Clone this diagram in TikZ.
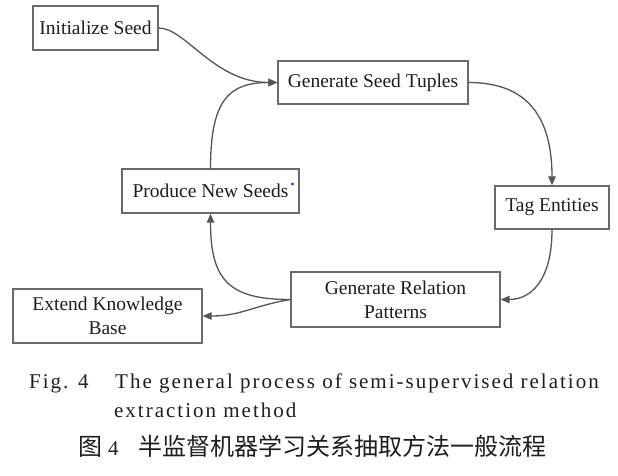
\documentclass[tikz,border=0pt]{standalone}
\usepackage{fontspec}
\setmainfont{Liberation Serif}
\newfontfamily\capfont{Liberation Serif}[LetterSpace=9.5]
\newfontfamily\cjk{Noto Sans CJK SC}
\usetikzlibrary{arrows.meta}
\definecolor{boxline}{HTML}{6A6A6A}
\definecolor{arrline}{HTML}{555555}
\definecolor{txt}{HTML}{1E1E1E}
\tikzset{
  procbox/.style={draw=boxline, line width=1.3pt, fill=white, inner sep=0pt, align=center,
    text=txt, font=\fontsize{19.5}{24}\selectfont},
  flow/.style={draw=arrline, line width=1.3pt, -{Triangle[length=9pt,width=7.5pt]}},
  captxt/.style={inner sep=0pt, text=txt, anchor=base west}
}
\begin{document}
\begin{tikzpicture}[x=1pt,y=-1pt]
\useasboundingbox (0,0) rectangle (618,475);
\fill[white] (0,0) rectangle (618,475);

\node[procbox, minimum width=125pt, minimum height=44pt] (init) at (95.5,28) {Initialize Seed};
\node[procbox, minimum width=190pt, minimum height=43pt] (gst) at (373,82.5) {Generate Seed Tuples};
\node[procbox, minimum width=114pt, minimum height=43pt] (tag) at (552,207.5) {Tag Entities};
\node[procbox, minimum width=177pt, minimum height=44pt] (pns) at (210.5,191) {Produce New Seeds};
\node[procbox, minimum width=209pt, minimum height=55pt] (grp) at (395.5,299.5) {Generate Relation\\Patterns};
\node[procbox, minimum width=189pt, minimum height=54pt] (ekb) at (107.5,316) {Extend Knowledge\\Base};

\fill[blue] (292.5,184) circle (1.4pt);

\draw[flow] (init.east) .. controls +(27,0) and +(-63,0) .. (gst.west);
\draw[flow] (pns.north) .. controls +(0,-69) and +(-48,0) .. (gst.west);
\draw[flow] (gst.east) .. controls +(52,0) and +(0,-76) .. (tag.north);
\draw[flow] (tag.south) .. controls +(0,51) and +(30,0) .. (grp.east);
\draw[flow] (grp.west) .. controls +(-61,0) and +(0,67) .. (pns.south);
\draw[flow] (grp.west) .. controls +(-36,6) and +(38,0) .. (ekb.east);

\node[captxt, font=\capfont\fontsize{21}{24}\selectfont] (fig) at (29,388) {Fig. 4};
\node[captxt, font=\capfont\fontsize{21}{24}\selectfont] (cap1) at (115,388) {The general process of semi-supervised relation};
\node[captxt, font=\capfont\fontsize{21}{24}\selectfont] (cap2) at (114,417) {extraction method};
\node[captxt, font=\cjk\fontsize{24}{28}\selectfont] (tu) at (78,455) {图};
\node[captxt, font=\capfont\fontsize{21}{24}\selectfont] (tun) at (108,455) {4};
\node[captxt, font=\cjk\fontsize{24}{28}\selectfont] (cn) at (138,455) {半监督机器学习关系抽取方法一般流程};
\end{tikzpicture}
\end{document}
